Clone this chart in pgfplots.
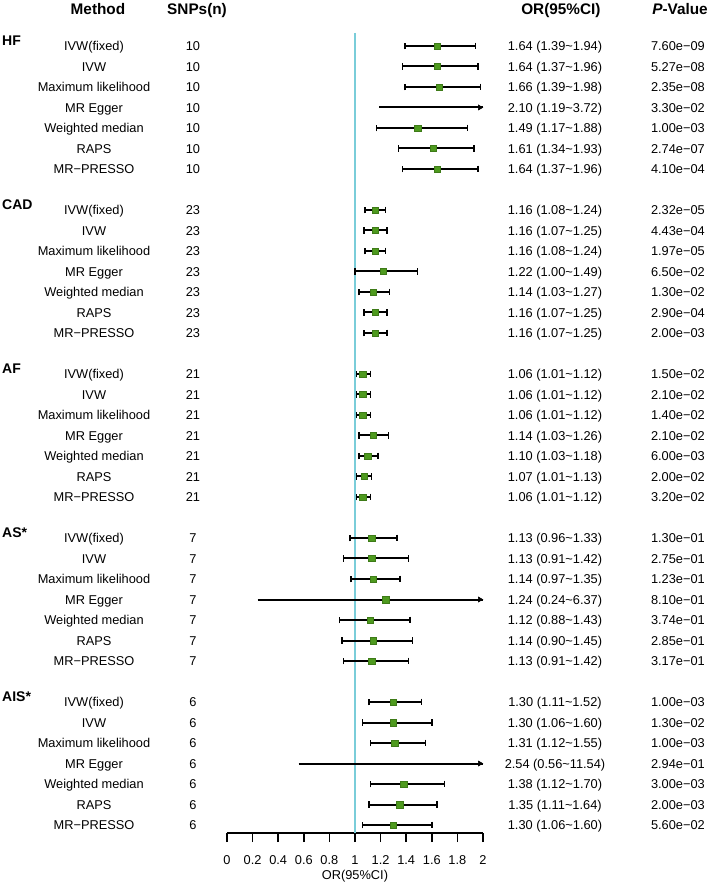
\documentclass[border=0pt]{standalone}
\usepackage{fontspec}
\setmainfont{Liberation Sans}
\usepackage{pgfplots}
\pgfplotsset{compat=1.18}
\usepackage{pgfplotstable}

\definecolor{ptgreen}{HTML}{4E9A1E}
\definecolor{refline}{HTML}{7ACDD9}

% rows with both CI ends inside the plotted range
\pgfplotstableread{
y est lo hi
0 1.64 1.39 1.94
-1 1.64 1.37 1.96
-2 1.66 1.39 1.98
-4 1.49 1.17 1.88
-5 1.61 1.34 1.93
-6 1.64 1.37 1.96
-8 1.16 1.08 1.24
-9 1.16 1.07 1.25
-10 1.16 1.08 1.24
-11 1.22 1.00 1.49
-12 1.14 1.03 1.27
-13 1.16 1.07 1.25
-14 1.16 1.07 1.25
-16 1.06 1.01 1.12
-17 1.06 1.01 1.12
-18 1.06 1.01 1.12
-19 1.14 1.03 1.26
-20 1.10 1.03 1.18
-21 1.07 1.01 1.13
-22 1.06 1.01 1.12
-24 1.13 0.96 1.33
-25 1.13 0.91 1.42
-26 1.14 0.97 1.35
-28 1.12 0.88 1.43
-29 1.14 0.90 1.45
-30 1.13 0.91 1.42
-32 1.30 1.11 1.52
-33 1.30 1.06 1.60
-34 1.31 1.12 1.55
-36 1.38 1.12 1.70
-37 1.35 1.11 1.64
-38 1.30 1.06 1.60
}\maindata

% MR Egger rows whose upper limit runs past 2
\pgfplotstableread{
y est lo hi
-3 2.10 1.19 3.72
-27 1.24 0.24 6.37
-35 2.54 0.56 11.54
}\eggerdata

\newcommand{\ci}[3]{#1 (#2\textasciitilde#3)}
\newcommand{\rowtext}[5]{%
  \node[txt] at (axis cs:-1.039,-#1) {#2};
  \node[txt] at (axis cs:-0.266,-#1) {#3};
  \node[txt] at (axis cs:2.5625,-#1) {#4};
  \node[txt] at (axis cs:3.523,-#1) {#5};}
\newcommand{\grouplabel}[2]{%
  \node[grp] at (axis cs:-1.758,-#1+0.25) {#2};}

\begin{document}
\begin{tikzpicture}[
  txt/.style={font=\fontsize{9.6}{11}\selectfont, anchor=base, inner sep=0pt, yshift=-3.4pt},
  grp/.style={font=\fontsize{10.5}{12}\selectfont\bfseries, anchor=base west, inner sep=0pt, yshift=-3.8pt},
  hdr/.style={font=\fontsize{11.5}{13}\selectfont\bfseries, anchor=base, inner sep=0pt, yshift=-4.2pt}]
\begin{axis}[
  scale only axis,
  width=192pt, height=600pt,
  xmin=0, xmax=2, ymin=-38.39, ymax=0.634,
  enlargelimits=false,
  clip mode=individual,
  axis y line=none,
  axis x line*=bottom,
  x axis line style={black, line width=1.1pt},
  xtick={0,0.2,0.4,0.6,0.8,1,1.2,1.4,1.6,1.8,2},
  xticklabels={0,0.2,0.4,0.6,0.8,1,1.2,1.4,1.6,1.8,2},
  tick align=outside,
  major tick length=6.75pt,
  x tick style={black, line width=1.1pt},
  xticklabel style={font=\fontsize{9.6}{11}\selectfont, anchor=base, yshift=-16.5pt},
  /pgf/number format/assume math mode=true,
]
% reference line at OR = 1
\addplot[refline, line width=1.6pt] coordinates {(1,0.634) (1,-38.39)};

% confidence intervals with caps
\addplot[draw=none, mark=none,
  error bars/.cd, x dir=both, x explicit, error mark=|,
  error bar style={draw=black, line width=1.5pt},
  error mark options={draw=black, line width=1.1pt, mark size=2.5pt}]
  table[x=est, y=y, x error plus expr=\thisrow{hi}-\thisrow{est},
        x error minus expr=\thisrow{est}-\thisrow{lo}] {\maindata};

% MR Egger intervals running past 2 (no caps)
\addplot[draw=none, mark=none,
  error bars/.cd, x dir=plus, x explicit, error mark=none,
  error bar style={draw=black, line width=1.5pt}]
  table[x=lo, y=y, x error expr=\thisrow{hi}-\thisrow{lo}] {\eggerdata};
\addplot[only marks, mark=triangle*, mark size=2.2pt,
  mark options={black, rotate=-90}]
  table[x expr=1.975, y=y] {\eggerdata};

% point estimates
\addplot[only marks, mark=square*, mark size=2.4pt,
  mark options={fill=ptgreen, draw=ptgreen!80!black, line width=0.3pt}]
  table[x=est, y=y] {\maindata};
\addplot[only marks, mark=square*, mark size=2.4pt, restrict x to domain=0:2,
  mark options={fill=ptgreen, draw=ptgreen!80!black, line width=0.3pt}]
  table[x=est, y=y] {\eggerdata};

% headers
\node[hdr] at (axis cs:-1.008,1.805) {Method};
\node[hdr] at (axis cs:-0.234,1.805) {SNPs(n)};
\node[hdr] at (axis cs:2.609,1.805) {OR(95\%CI)};
\node[hdr] at (axis cs:3.539,1.805) {\textit{P}-Value};

% x label
\node[txt] at (axis cs:1,-40.44) {OR(95\%CI)};

% group labels
\grouplabel{0}{HF}
\grouplabel{8}{CAD}
\grouplabel{16}{AF}
\grouplabel{24}{AS*}
\grouplabel{32}{AIS*}

% HF
\rowtext{0}{IVW(fixed)}{10}{\ci{1.64}{1.39}{1.94}}{7.60e−09}
\rowtext{1}{IVW}{10}{\ci{1.64}{1.37}{1.96}}{5.27e−08}
\rowtext{2}{Maximum likelihood}{10}{\ci{1.66}{1.39}{1.98}}{2.35e−08}
\rowtext{3}{MR Egger}{10}{\ci{2.10}{1.19}{3.72}}{3.30e−02}
\rowtext{4}{Weighted median}{10}{\ci{1.49}{1.17}{1.88}}{1.00e−03}
\rowtext{5}{RAPS}{10}{\ci{1.61}{1.34}{1.93}}{2.74e−07}
\rowtext{6}{MR−PRESSO}{10}{\ci{1.64}{1.37}{1.96}}{4.10e−04}
% CAD
\rowtext{8}{IVW(fixed)}{23}{\ci{1.16}{1.08}{1.24}}{2.32e−05}
\rowtext{9}{IVW}{23}{\ci{1.16}{1.07}{1.25}}{4.43e−04}
\rowtext{10}{Maximum likelihood}{23}{\ci{1.16}{1.08}{1.24}}{1.97e−05}
\rowtext{11}{MR Egger}{23}{\ci{1.22}{1.00}{1.49}}{6.50e−02}
\rowtext{12}{Weighted median}{23}{\ci{1.14}{1.03}{1.27}}{1.30e−02}
\rowtext{13}{RAPS}{23}{\ci{1.16}{1.07}{1.25}}{2.90e−04}
\rowtext{14}{MR−PRESSO}{23}{\ci{1.16}{1.07}{1.25}}{2.00e−03}
% AF
\rowtext{16}{IVW(fixed)}{21}{\ci{1.06}{1.01}{1.12}}{1.50e−02}
\rowtext{17}{IVW}{21}{\ci{1.06}{1.01}{1.12}}{2.10e−02}
\rowtext{18}{Maximum likelihood}{21}{\ci{1.06}{1.01}{1.12}}{1.40e−02}
\rowtext{19}{MR Egger}{21}{\ci{1.14}{1.03}{1.26}}{2.10e−02}
\rowtext{20}{Weighted median}{21}{\ci{1.10}{1.03}{1.18}}{6.00e−03}
\rowtext{21}{RAPS}{21}{\ci{1.07}{1.01}{1.13}}{2.00e−02}
\rowtext{22}{MR−PRESSO}{21}{\ci{1.06}{1.01}{1.12}}{3.20e−02}
% AS*
\rowtext{24}{IVW(fixed)}{7}{\ci{1.13}{0.96}{1.33}}{1.30e−01}
\rowtext{25}{IVW}{7}{\ci{1.13}{0.91}{1.42}}{2.75e−01}
\rowtext{26}{Maximum likelihood}{7}{\ci{1.14}{0.97}{1.35}}{1.23e−01}
\rowtext{27}{MR Egger}{7}{\ci{1.24}{0.24}{6.37}}{8.10e−01}
\rowtext{28}{Weighted median}{7}{\ci{1.12}{0.88}{1.43}}{3.74e−01}
\rowtext{29}{RAPS}{7}{\ci{1.14}{0.90}{1.45}}{2.85e−01}
\rowtext{30}{MR−PRESSO}{7}{\ci{1.13}{0.91}{1.42}}{3.17e−01}
% AIS*
\rowtext{32}{IVW(fixed)}{6}{\ci{1.30}{1.11}{1.52}}{1.00e−03}
\rowtext{33}{IVW}{6}{\ci{1.30}{1.06}{1.60}}{1.30e−02}
\rowtext{34}{Maximum likelihood}{6}{\ci{1.31}{1.12}{1.55}}{1.00e−03}
\rowtext{35}{MR Egger}{6}{\ci{2.54}{0.56}{11.54}}{2.94e−01}
\rowtext{36}{Weighted median}{6}{\ci{1.38}{1.12}{1.70}}{3.00e−03}
\rowtext{37}{RAPS}{6}{\ci{1.35}{1.11}{1.64}}{2.00e−03}
\rowtext{38}{MR−PRESSO}{6}{\ci{1.30}{1.06}{1.60}}{5.60e−02}

\coordinate (bbtl) at (axis cs:-1.7734,2.2439);
\coordinate (bbbr) at (axis cs:3.7656,-40.829);
\end{axis}
\pgfresetboundingbox
\useasboundingbox (bbtl) rectangle (bbbr);
\end{tikzpicture}
\end{document}
